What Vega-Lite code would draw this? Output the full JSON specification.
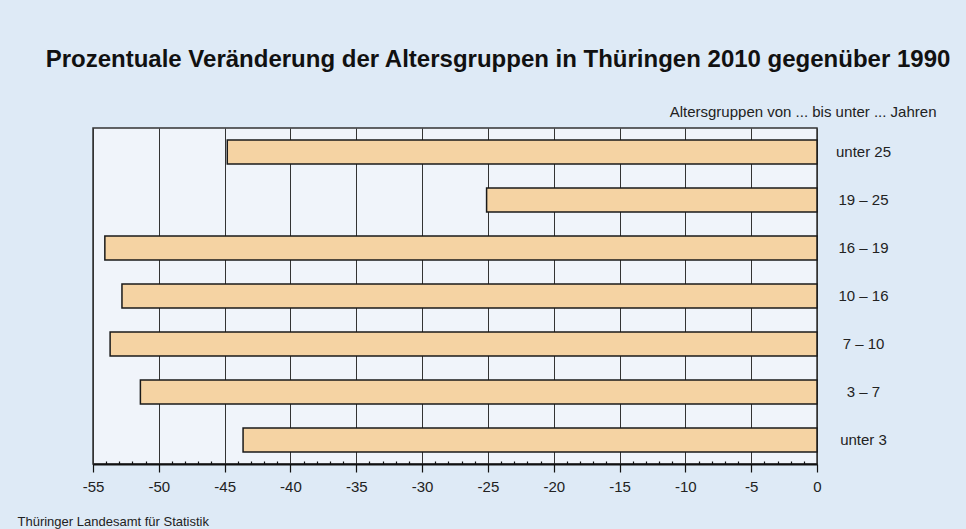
{
  "$schema": "https://vega.github.io/schema/vega-lite/v6.json",
  "width": 724,
  "height": 336,
  "autosize": {"type": "none"},
  "padding": {"left": 93, "top": 128, "right": 149, "bottom": 65},
  "background": "#deeaf6",
  "title": {
    "text": "Prozentuale Veränderung der Altersgruppen in Thüringen 2010 gegenüber 1990",
    "font": "Liberation Sans",
    "fontSize": 24,
    "fontWeight": "bold",
    "color": "#111111",
    "anchor": "middle",
    "dx": 43,
    "offset": 32
  },
  "config": {
    "view": {"fill": "#f0f4fa", "stroke": "#333333", "strokeWidth": 1.5},
    "axis": {"labelFont": "Liberation Sans", "titleFont": "Liberation Sans", "labelColor": "#222222", "titleColor": "#222222"}
  },
  "data": {
    "values": [
      {"gruppe": "unter 25", "wert": -44.8},
      {"gruppe": "19 – 25", "wert": -25.1},
      {"gruppe": "16 – 19", "wert": -54.1},
      {"gruppe": "10 – 16", "wert": -52.8},
      {"gruppe": "7 – 10", "wert": -53.7},
      {"gruppe": "3 – 7", "wert": -51.4},
      {"gruppe": "unter 3", "wert": -43.6}
    ]
  },
  "resolve": {"axis": {"x": "independent"}},
  "layer": [
    {
      "mark": {"type": "bar", "fill": "#f5d3a3", "stroke": "#1a1a1a", "strokeWidth": 1.5},
      "encoding": {
        "y": {
          "field": "gruppe", "type": "nominal", "sort": null,
          "scale": {"paddingInner": 0.5, "paddingOuter": 0.25},
          "axis": {
            "orient": "right", "domain": false, "ticks": false,
            "labelAlign": "center", "labelPadding": 46, "labelFontSize": 15,
            "title": "Altersgruppen von ... bis unter ... Jahren",
            "titleAngle": 0, "titleAlign": "right", "titleBaseline": "alphabetic",
            "titleX": 119, "titleY": -12, "titleFontSize": 15, "titleFontWeight": "normal"
          }
        },
        "x": {
          "field": "wert", "type": "quantitative",
          "scale": {"domain": [-55, 0], "nice": false},
          "axis": {
            "values": [-55, -50, -45, -40, -35, -30, -25, -20, -15, -10, -5, 0],
            "labelExpr": "datum.value + ''",
            "grid": true, "gridColor": "#333333", "gridWidth": 1, "gridOpacity": 1,
            "domainColor": "#111111", "domainWidth": 2,
            "tickColor": "#111111", "tickSize": 8, "tickWidth": 1.2,
            "labelFontSize": 15, "labelPadding": 7, "labelFlush": false,
            "title": "Thüringer Landesamt für Statistik",
            "titleX": -76, "titleY": 61, "titleAlign": "left", "titleBaseline": "alphabetic",
            "titleFontSize": 13, "titleFontWeight": "normal"
          }
        }
      }
    },
    {
      "mark": {"type": "bar", "opacity": 0},
      "encoding": {
        "y": {"field": "gruppe", "type": "nominal", "sort": null},
        "x": {
          "field": "wert", "type": "quantitative",
          "axis": {
            "orient": "bottom",
            "values": [-54, -53, -52, -51, -49, -48, -47, -46, -44, -43, -42, -41, -39, -38, -37, -36, -34, -33, -32, -31, -29, -28, -27, -26, -24, -23, -22, -21, -19, -18, -17, -16, -14, -13, -12, -11, -9, -8, -7, -6, -4, -3, -2, -1],
            "labels": false, "domain": false, "grid": false,
            "tickSize": -3, "tickColor": "#111111", "tickWidth": 1.2, "title": null
          }
        }
      }
    }
  ]
}
